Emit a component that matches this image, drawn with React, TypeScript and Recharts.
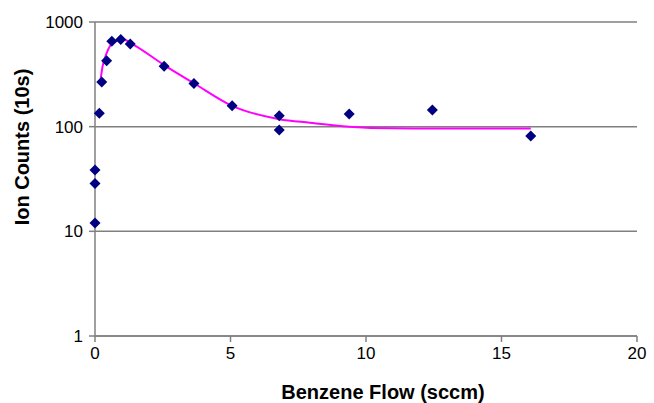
import React from 'react';
import { ComposedChart, Scatter, Line, XAxis, YAxis, CartesianGrid } from 'recharts';

// measured points (benzene flow vs ion counts)
const flowValues = [0, 0, 0, 0.16, 0.25, 0.43, 0.62, 0.95, 1.3, 2.55, 3.65, 5.06, 6.8, 6.8, 9.38, 12.45, 16.08];
const countValues = [12, 28.7, 38.5, 134, 267, 427, 655, 679, 617, 377, 259, 158, 127, 93, 132, 144, 81.5];

// fitted curve
const fitFlow = [0.18, 0.28, 0.43, 0.68, 1.04, 1.41, 2.55, 3.65, 5.06, 6.8, 7.93, 9.38, 11, 13.5, 16.08];
const fitCounts = [251, 377, 505, 640, 680, 608, 388, 260, 158, 118, 109, 100, 96.5, 96, 96];

const xTicks = [0, 5, 10, 15, 20];
const yTicks = [1, 10, 100, 1000];

const points = flowValues.map((x, i) => ({ x, y: countValues[i] }));
const fit = fitFlow.map((x, i) => ({ x, y: fitCounts[i] }));

const Diamond = (props: any) => {
  const { cx, cy } = props;
  const r = 5.5;
  return (
    <path
      d={`M${cx},${cy - r}L${cx + r},${cy}L${cx},${cy + r}L${cx - r},${cy}Z`}
      fill="#000080"
    />
  );
};

const tickStyle = { fill: '#000', fontSize: 17 };

export default function App() {
  return (
    <div
      style={{
        position: 'absolute',
        left: 0,
        top: 0,
        width: 654,
        height: 403,
        background: '#fff',
        fontFamily: '"Liberation Sans", Arial, sans-serif',
      }}
    >
      <ComposedChart width={654} height={403} margin={{ top: 22, right: 17, left: 0, bottom: 37 }}>
        <CartesianGrid vertical={false} stroke="#808080" strokeWidth={1.5} />
        <XAxis
          type="number"
          dataKey="x"
          domain={[0, 20]}
          ticks={xTicks}
          height={30}
          stroke="#808080"
          strokeWidth={1.5}
          tickSize={6}
          tickMargin={5}
          tick={tickStyle}
        />
        <YAxis
          type="number"
          dataKey="y"
          scale="log"
          domain={[1, 1000]}
          ticks={yTicks}
          width={95}
          stroke="#808080"
          strokeWidth={1.5}
          tickSize={6}
          tickMargin={6}
          tick={tickStyle}
        />
        <Line
          data={fit}
          dataKey="y"
          type="monotone"
          stroke="#FF00FF"
          strokeWidth={2}
          dot={false}
          activeDot={false}
          isAnimationActive={false}
        />
        <Scatter data={points} dataKey="y" shape={<Diamond />} isAnimationActive={false} />
      </ComposedChart>

      {/* axis titles */}
      <div
        style={{
          position: 'absolute',
          left: 22,
          top: 147,
          transform: 'translate(-50%, -50%) rotate(-90deg)',
          whiteSpace: 'nowrap',
          fontWeight: 'bold',
          fontSize: 20,
        }}
      >
        Ion Counts (10s)
      </div>
      <div
        style={{
          position: 'absolute',
          left: 383,
          top: 392,
          transform: 'translate(-50%, -50%)',
          whiteSpace: 'nowrap',
          fontWeight: 'bold',
          fontSize: 20,
        }}
      >
        Benzene Flow (sccm)
      </div>
    </div>
  );
}
